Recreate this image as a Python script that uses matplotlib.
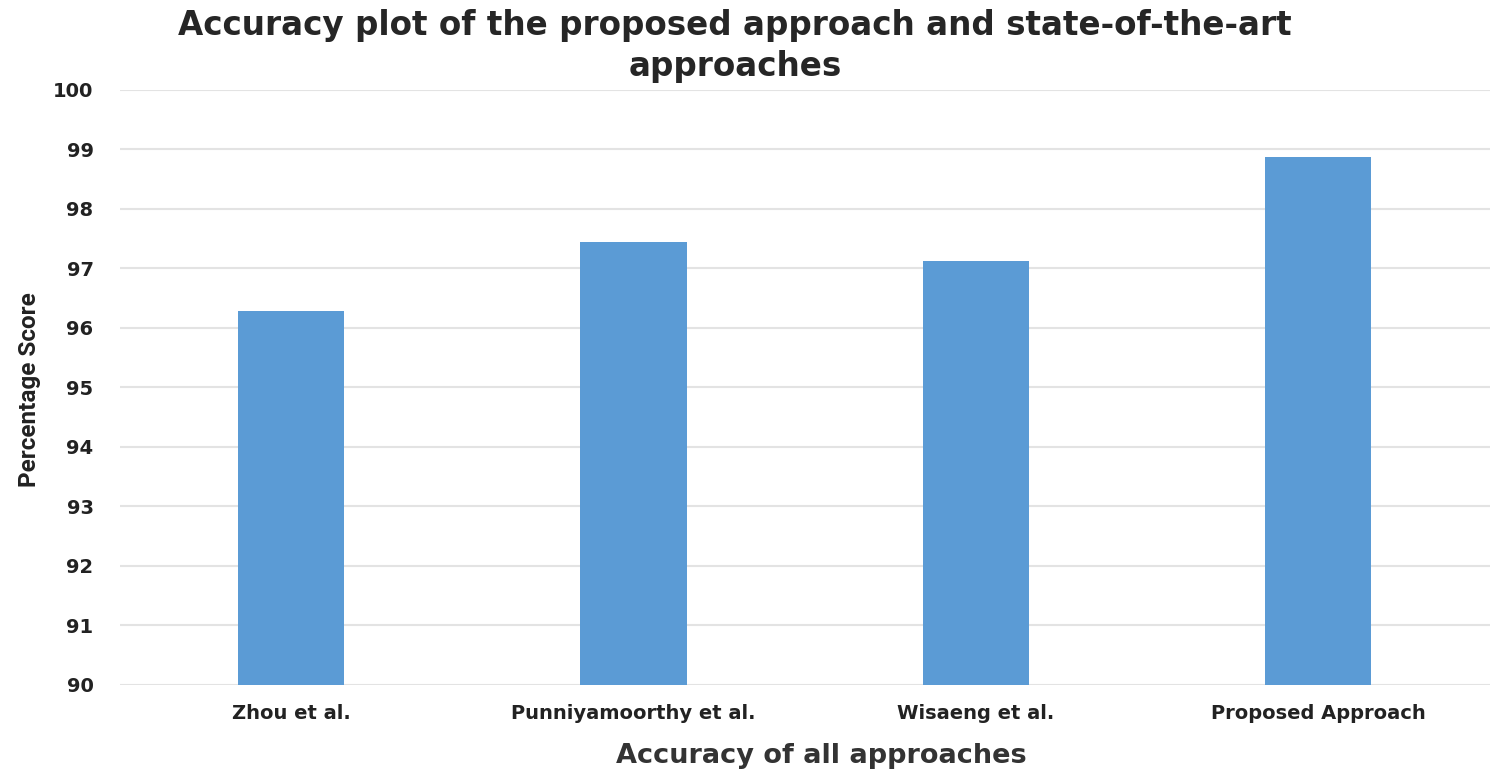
import matplotlib
matplotlib.use("Agg")
import matplotlib.pyplot as plt

approaches = ["Zhou et al.", "Punniyamoorthy et al.", "Wisaeng et al.", "Proposed Approach"]
accuracy = [96.29, 97.45, 97.13, 98.87]
yticks = [90, 91, 92, 93, 94, 95, 96, 97, 98, 99, 100]

plt.rcParams['font.family'] = ['DejaVu Sans']

fig = plt.figure(figsize=(15, 7.81), dpi=100)
ax = fig.add_axes([0.08, 0.123, 0.913, 0.762])

ax.bar(range(len(approaches)), accuracy, width=0.31, color="#5B9BD5", zorder=3)

ax.set_ylim(90, 100)
ax.set_xlim(-0.5, len(approaches) - 0.5)
ax.set_yticks(yticks)
ax.set_yticklabels([str(t) for t in yticks], fontsize=14, fontweight="bold", color="#222222")
ax.set_xticks(range(len(approaches)))
ax.set_xticklabels(approaches, fontsize=14, fontweight="bold", color="#222222")
ax.tick_params(axis="y", length=0, pad=19)
ax.tick_params(axis="x", length=0, pad=14)
ax.grid(axis="y", color="#e3e3e3", linewidth=1.5, zorder=0)
for s in ax.spines.values():
    s.set_visible(False)

ax.set_xlabel("Accuracy of all approaches", fontsize=19.5, fontweight="bold",
              color="#333333")
ax.xaxis.set_label_coords(0.512, -0.098)
ax.set_ylabel("Percentage Score", fontsize=17.5, family="Roboto", fontweight="bold",
              color="#222222")
ax.yaxis.set_label_coords(-0.058, 0.496)

fig.text(0.49, 0.988, "Accuracy plot of the proposed approach and state-of-the-art\napproaches",
         ha="center", va="top", fontsize=23.5, fontweight="bold", color="#262626",
         linespacing=1.3)

fig.savefig("out.png", dpi=100, facecolor="white")
